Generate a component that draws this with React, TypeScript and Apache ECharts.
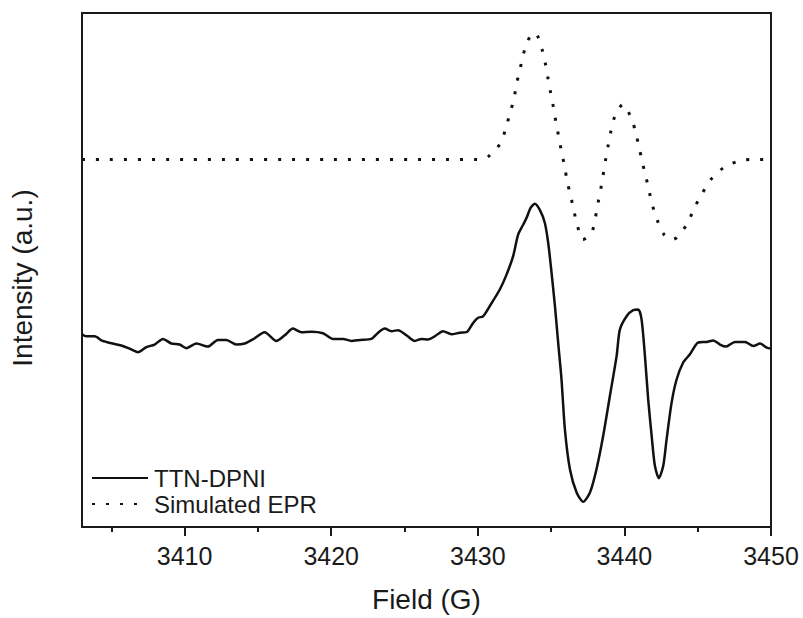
import React, { useEffect, useRef } from "react";
import * as echarts from "echarts";

// Field values (G) and intensities (a.u.) for the experimental spectrum
const expField = [
  3403.0, 3403.29, 3403.86, 3404.4, 3405.09, 3405.68, 3406.25, 3406.81, 3407.39, 3407.95,
  3408.52, 3409.09, 3409.66, 3410.12, 3410.8, 3411.59, 3412.27, 3412.85, 3413.53, 3414.1,
  3414.66, 3415.46, 3416.26, 3416.83, 3417.39, 3417.97, 3418.65, 3419.44, 3420.12, 3420.81,
  3421.38, 3421.95, 3422.74, 3423.2, 3423.65, 3424.11, 3424.56, 3425.13, 3425.7, 3426.16,
  3426.61, 3427.06, 3427.63, 3428.2, 3428.77, 3429.23, 3429.68, 3430.02, 3430.36, 3430.82,
  3431.5, 3431.96, 3432.41, 3432.75, 3433.09, 3433.32, 3433.6, 3433.89, 3434.23, 3434.57,
  3434.8, 3435.03, 3435.26, 3435.48, 3435.71, 3435.94, 3436.28, 3436.74, 3437.19, 3437.65,
  3438.1, 3438.55, 3439.01, 3439.47, 3439.69, 3440.15, 3440.6, 3440.94, 3441.17, 3441.4,
  3441.62, 3441.86, 3442.08, 3442.35, 3442.65, 3442.88, 3443.22, 3443.56, 3444.01, 3444.47,
  3445.04, 3445.61, 3446.06, 3446.52, 3446.93, 3447.54, 3448.23, 3448.79, 3449.25, 3449.71,
  3450.0,
];
const expIntensity = [
  37.5, 37.1, 37.1, 36.2, 35.7, 35.3, 34.7, 34.0, 35.0, 35.5,
  36.6, 35.7, 35.5, 34.8, 35.7, 35.1, 36.4, 36.4, 35.5, 35.7,
  36.5, 37.9, 36.2, 37.3, 38.6, 37.9, 38.0, 37.7, 36.6, 36.6,
  36.2, 36.4, 36.6, 37.8, 38.6, 38.1, 38.3, 37.3, 36.2, 36.6,
  36.5, 37.1, 38.1, 37.5, 37.8, 37.9, 39.7, 40.7, 41.0, 43.0,
  46.2, 49.1, 52.7, 56.9, 58.8, 60.1, 62.1, 62.9, 61.7, 59.2,
  55.3, 49.5, 43.0, 35.9, 28.7, 19.0, 11.3, 6.7, 4.9, 6.7,
  11.3, 17.7, 25.5, 33.3, 38.4, 41.0, 42.2, 42.3, 40.4, 33.3,
  24.9, 17.7, 11.9, 9.5, 11.9, 17.1, 24.2, 28.7, 32.0, 33.6,
  35.9, 36.0, 36.3, 35.5, 35.1, 36.0, 36.0, 35.2, 35.7, 34.9,
  34.7,
];

// Simulated EPR spectrum
const simField = [
  3403.0, 3410.0, 3420.0, 3428.0, 3430.0, 3430.77, 3431.55, 3431.91, 3432.18, 3432.46,
  3432.64, 3432.87, 3433.09, 3433.39, 3433.75, 3434.05, 3434.39, 3434.62, 3434.8, 3434.98,
  3435.17, 3435.34, 3435.53, 3435.71, 3435.92, 3436.1, 3436.33, 3436.55, 3436.78, 3437.17,
  3437.76, 3438.01, 3438.19, 3438.38, 3438.55, 3438.72, 3438.89, 3439.08, 3439.35, 3439.9,
  3440.49, 3440.78, 3441.01, 3441.22, 3441.47, 3441.69, 3441.92, 3442.24, 3442.7, 3443.24,
  3443.56, 3444.29, 3444.74, 3445.27, 3445.9, 3446.81, 3447.82, 3448.79, 3450.0,
];
const simIntensity = [
  71.5, 71.5, 71.5, 71.5, 71.5, 72.2, 74.7, 77.6, 80.4, 83.2,
  86.2, 88.9, 91.8, 94.4, 96.1, 95.7, 92.8, 90.0, 87.1, 84.3,
  81.5, 78.6, 75.8, 73.0, 70.2, 67.2, 64.5, 61.6, 58.8, 55.9,
  57.3, 60.0, 62.9, 65.6, 68.5, 71.5, 74.2, 77.0, 79.9, 82.2,
  79.4, 76.6, 73.8, 71.0, 68.1, 65.3, 62.5, 59.7, 56.9, 55.9,
  56.3, 59.0, 61.9, 64.7, 67.6, 70.0, 71.2, 71.5, 71.5,
];

const majorTicks = [3410, 3420, 3430, 3440, 3450];
const minorTicks = [3405, 3415, 3425, 3435, 3445];
const seriesNames = ["TTN-DPNI", "Simulated EPR"];

const FONT = "'Liberation Sans', Arial, sans-serif";

export default function App() {
  const ref = useRef<HTMLDivElement>(null);

  useEffect(() => {
    if (!ref.current) return;
    const chart = echarts.init(ref.current, null, { renderer: "svg" });
    const expData = expField.map((f, i) => [f, expIntensity[i]]);
    const simData = simField.map((f, i) => [f, simIntensity[i]]);

    chart.setOption({
      animation: false,
      backgroundColor: "#ffffff",
      textStyle: { fontFamily: FONT, color: "#1a1a1a" },
      grid: {
        left: 82,
        right: 32,
        top: 13,
        bottom: 90,
        show: true,
        borderColor: "#1a1a1a",
        borderWidth: 2,
        backgroundColor: "transparent",
      },
      legend: {
        orient: "vertical",
        left: 86,
        top: 461,
        itemWidth: 56,
        itemHeight: 14,
        itemGap: 2,
        data: seriesNames,
        itemStyle: { opacity: 0 },
        textStyle: { fontSize: 24, fontFamily: FONT, color: "#1a1a1a", padding: [0, 0, 0, 1] },
      },
      xAxis: [
        {
          type: "value",
          min: 3403,
          max: 3450,
          position: "bottom",
          name: "Field (G)",
          nameLocation: "middle",
          nameGap: 58,
          nameTextStyle: { fontSize: 28, fontFamily: FONT, color: "#1a1a1a" },
          axisLine: { show: true, lineStyle: { color: "#1a1a1a", width: 2 } },
          axisTick: {
            show: true,
            inside: false,
            length: 9,
            customValues: majorTicks,
            lineStyle: { color: "#1a1a1a", width: 2 },
          },
          axisLabel: {
            show: true,
            customValues: majorTicks,
            formatter: (v: number) => String(v),
            margin: 16,
            fontSize: 25,
            fontFamily: FONT,
            color: "#1a1a1a",
          },
          splitLine: { show: false },
        },
        {
          type: "value",
          min: 3403,
          max: 3450,
          position: "bottom",
          axisLine: { show: false },
          axisTick: {
            show: true,
            inside: false,
            length: 5,
            customValues: minorTicks,
            lineStyle: { color: "#1a1a1a", width: 2 },
          },
          axisLabel: { show: false },
          splitLine: { show: false },
        },
      ],
      yAxis: {
        type: "value",
        min: 0,
        max: 100,
        name: "Intensity (a.u.)",
        nameLocation: "middle",
        nameGap: 46,
        nameTextStyle: {
          fontSize: 28,
          fontFamily: FONT,
          color: "#1a1a1a",
          padding: [0, 16, 0, 0],
        },
        axisLine: { show: true, lineStyle: { color: "#1a1a1a", width: 2 } },
        axisTick: { show: false },
        axisLabel: { show: false },
        splitLine: { show: false },
      },
      series: [
        {
          name: seriesNames[0],
          type: "line",
          xAxisIndex: 0,
          data: expData,
          symbol: "none",
          smooth: 0.25,
          lineStyle: { color: "#111111", width: 2.5 },
          itemStyle: { color: "#111111" },
        },
        {
          name: seriesNames[1],
          type: "line",
          xAxisIndex: 0,
          data: simData,
          symbol: "none",
          smooth: 0.3,
          lineStyle: { color: "#111111", width: 3, type: [3, 11] },
          itemStyle: { color: "#111111" },
        },
      ],
    });

    return () => chart.dispose();
  }, []);

  return (
    <div
      ref={ref}
      style={{ position: "fixed", left: 0, top: 0, width: 803, height: 618, background: "#fff" }}
    />
  );
}
